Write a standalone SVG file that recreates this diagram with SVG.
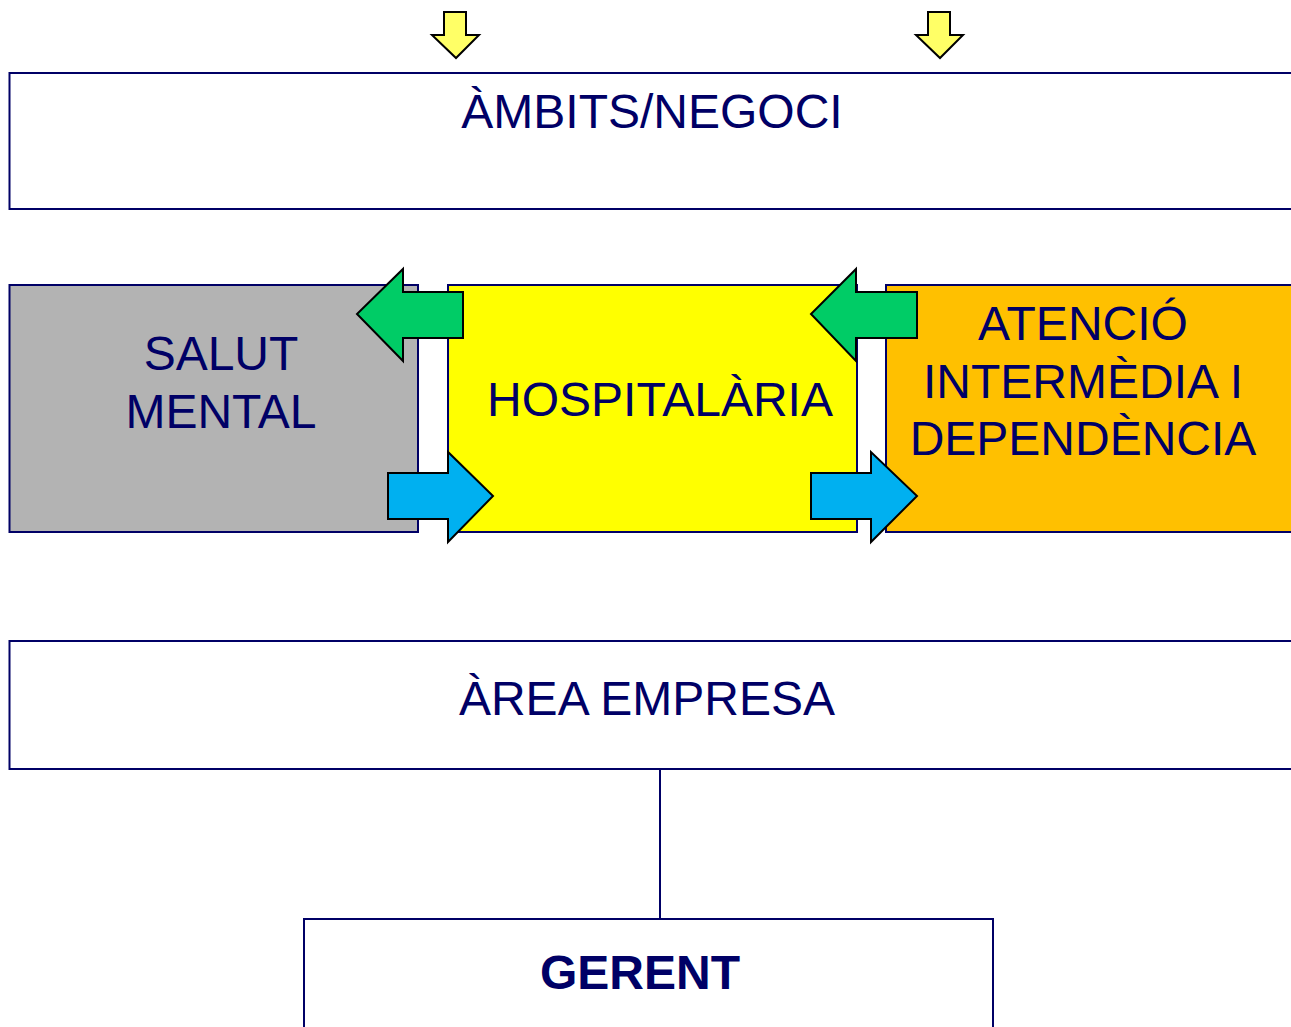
<svg xmlns="http://www.w3.org/2000/svg" width="1291" height="1027" viewBox="0 0 1291 1027">
<style>
.box{stroke:#000066;stroke-width:2}
.t{font-family:"Liberation Sans",Arial,sans-serif;font-size:48px;fill:#000066;text-anchor:middle}
.arr{stroke:#000;stroke-width:2;stroke-linejoin:miter}
</style>
<rect width="1291" height="1027" fill="#fff"/>
<g id="in-arrow-1"><path class="arr" fill="#FFFF66" d="M444,12 H466 V35 H479 L456,58 L432,35 H444 Z"/></g>
<g id="in-arrow-2"><path class="arr" fill="#FFFF66" d="M928,12 H950 V35 H963 L940,58 L916,35 H928 Z"/></g>
<g id="ambits">
<rect class="box" x="9.5" y="73" width="1300" height="136" fill="#fff"/>
<text class="t" x="652" y="128">ÀMBITS/NEGOCI</text>
</g>
<g id="salut-mental">
<rect class="box" x="9.5" y="285" width="408.5" height="247" fill="#B3B3B3"/>
<text class="t" x="221" y="370">SALUT</text>
<text class="t" x="221" y="428">MENTAL</text>
</g>
<g id="hospitalaria">
<rect class="box" x="448" y="285" width="409" height="247" fill="#FFFF00"/>
<text class="t" x="660" y="416">HOSPITALÀRIA</text>
</g>
<g id="atencio">
<rect class="box" x="886" y="285" width="420" height="247" fill="#FFC000"/>
<text class="t" x="1083" y="340">ATENCIÓ</text>
<text class="t" x="1083" y="398">INTERMÈDIA I</text>
<text class="t" x="1083" y="455">DEPENDÈNCIA</text>
</g>
<g id="area-empresa">
<rect class="box" x="9.5" y="641" width="1300" height="128" fill="#fff"/>
<text class="t" x="647" y="715">ÀREA EMPRESA</text>
</g>
<g id="gerent">
<rect class="box" x="304" y="919" width="689" height="130" fill="#fff"/>
<text class="t" x="640" y="989" font-weight="bold">GERENT</text>
</g>
<g id="connectors">
<line x1="660" y1="769" x2="660" y2="919" stroke="#000066" stroke-width="2"/>
<path class="arr" fill="#00CC66" d="M463,292 V338 H403 V361 L357,314 L403,269 V292 Z"/>
<path class="arr" fill="#00B0F0" d="M388,473 H448 V452 L493,496 L448,542 V519 H388 Z"/>
<path class="arr" fill="#00CC66" d="M917,292 V338 H856 V361 L811,314 L856,269 V292 Z"/>
<path class="arr" fill="#00B0F0" d="M811,473 H871 V452 L917,496 L871,542 V519 H811 Z"/>
</g>
</svg>
